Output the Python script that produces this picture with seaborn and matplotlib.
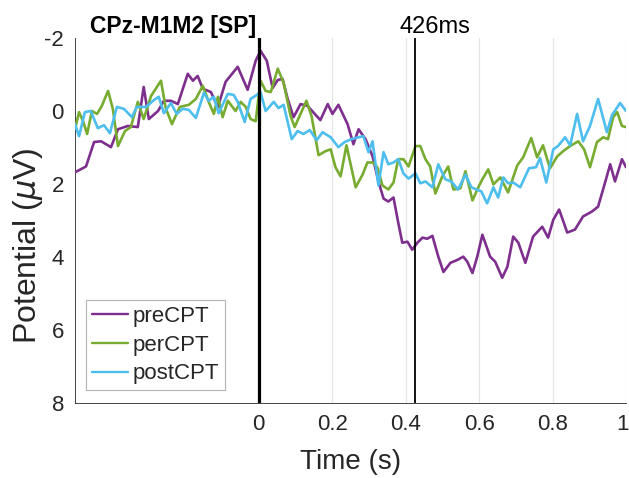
import numpy as np
import pandas as pd
import matplotlib
matplotlib.use("Agg")
import matplotlib.pyplot as plt
import matplotlib.transforms as mtransforms
import seaborn as sns

# ---------------- data ----------------
conditions = ["preCPT", "perCPT", "postCPT"]
colors = ["#7E2F8E", "#77AC30", "#4DBEEE"]

t_pre = [-0.5, -0.470, -0.448, -0.429, -0.402, -0.383, -0.356, -0.329, -0.313, -0.299,
         -0.274, -0.258, -0.239, -0.220, -0.193, -0.179, -0.166, -0.152, -0.130, -0.111,
         -0.090, -0.057, -0.030, -0.008, 0.005, 0.022, 0.038, 0.052, 0.065, 0.079,
         0.095, 0.114, 0.133, 0.168, 0.188, 0.201, 0.217, 0.242, 0.258, 0.272,
         0.291, 0.310, 0.326, 0.340, 0.353, 0.367, 0.380, 0.391, 0.405, 0.418,
         0.432, 0.446, 0.459, 0.473, 0.489, 0.503, 0.522, 0.541, 0.557, 0.568,
         0.582, 0.595, 0.609, 0.630, 0.644, 0.663, 0.677, 0.693, 0.707, 0.726,
         0.747, 0.772, 0.788, 0.802, 0.818, 0.840, 0.861, 0.883, 0.908, 0.924,
         0.943, 0.957, 0.970, 0.989, 1.0]
v_pre = [1.68, 1.52, 0.85, 0.83, 0.99, 0.50, 0.41, 0.44, -0.66, 0.22,
         0.00, -0.28, -0.28, -0.19, -1.02, -0.83, -0.96, -0.61, -0.52, -0.11,
         -0.80, -1.21, -0.58, -1.38, -1.65, -1.38, -0.63, -0.85, -0.88, -0.33,
         0.17, -0.19, -0.14, 0.25, -0.19, 0.08, -0.17, 0.36, 0.91, 0.50,
         0.77, 1.24, 1.93, 2.40, 2.48, 2.37, 3.06, 3.61, 3.58, 3.80,
         3.61, 3.47, 3.50, 3.42, 3.99, 4.41, 4.16, 4.08, 3.99, 4.13,
         4.44, 3.99, 3.39, 3.99, 4.13, 4.57, 4.27, 3.44, 3.61, 4.16,
         3.44, 3.17, 3.47, 2.98, 2.70, 3.33, 3.25, 2.89, 2.75, 2.62,
         1.96, 1.46, 1.93, 1.32, 1.54]

t_per = [-0.5, -0.489, -0.478, -0.467, -0.454, -0.440, -0.427, -0.410, -0.397, -0.383,
         -0.364, -0.348, -0.329, -0.313, -0.293, -0.266, -0.253, -0.236, -0.215, -0.190,
         -0.171, -0.152, -0.136, -0.122, -0.111, -0.098, -0.084, -0.063, -0.049, -0.035,
         -0.022, -0.008, 0.005, 0.019, 0.033, 0.052, 0.068, 0.087, 0.098, 0.114,
         0.130, 0.144, 0.163, 0.182, 0.196, 0.209, 0.223, 0.239, 0.264, 0.283,
         0.296, 0.310, 0.323, 0.337, 0.353, 0.367, 0.380, 0.394, 0.408, 0.427,
         0.440, 0.454, 0.467, 0.481, 0.500, 0.516, 0.530, 0.549, 0.563, 0.582,
         0.598, 0.609, 0.625, 0.639, 0.658, 0.679, 0.704, 0.720, 0.742, 0.758,
         0.774, 0.793, 0.813, 0.829, 0.848, 0.870, 0.886, 0.902, 0.921, 0.938,
         0.951, 0.965, 0.976, 0.989, 1.0]
v_per = [0.50, 0.03, 0.28, 0.63, 0.00, 0.08, -0.14, -0.55, -0.06, 0.96,
         0.55, 0.44, -0.25, 0.22, -0.41, -0.83, -0.08, 0.36, -0.11, -0.17,
         -0.33, -0.69, -0.25, 0.08, -0.39, 0.17, -0.28, 0.00, -0.25, -0.11,
         0.22, 0.28, -0.83, -0.55, -0.52, -1.16, -0.77, 0.14, 0.44, 0.08,
         -0.28, 0.14, 1.21, 1.10, 1.05, 1.54, 1.79, 0.94, 2.09, 1.74,
         1.41, 1.41, 1.54, 2.04, 2.15, 1.96, 1.32, 1.32, 1.52, 0.96,
         0.96, 1.32, 1.52, 2.26, 1.79, 1.52, 2.15, 2.12, 1.65, 2.45,
         2.09, 1.87, 1.60, 2.01, 1.82, 2.23, 1.49, 1.27, 0.74, 1.27,
         0.94, 1.57, 1.24, 1.10, 0.96, 0.83, 1.05, 1.54, 0.85, 0.72,
         0.77, 0.17, 0.03, 0.41, 0.44]

t_post = [-0.5, -0.489, -0.473, -0.457, -0.438, -0.421, -0.405, -0.386, -0.367, -0.345,
          -0.332, -0.307, -0.285, -0.272, -0.258, -0.239, -0.223, -0.207, -0.190, -0.171,
          -0.149, -0.136, -0.122, -0.109, -0.084, -0.068, -0.057, -0.038, -0.022, -0.005,
          0.005, 0.019, 0.041, 0.054, 0.068, 0.090, 0.106, 0.122, 0.139, 0.158,
          0.174, 0.196, 0.217, 0.234, 0.253, 0.272, 0.285, 0.299, 0.310, 0.326,
          0.340, 0.353, 0.367, 0.380, 0.394, 0.408, 0.427, 0.440, 0.454, 0.473,
          0.489, 0.508, 0.524, 0.543, 0.563, 0.579, 0.592, 0.606, 0.622, 0.639,
          0.652, 0.666, 0.679, 0.693, 0.712, 0.736, 0.755, 0.766, 0.783, 0.802,
          0.815, 0.834, 0.848, 0.867, 0.883, 0.902, 0.924, 0.948, 0.962, 0.984,
          1.0]
v_post = [0.36, 0.69, 0.03, 0.00, 0.47, 0.39, 0.61, -0.11, -0.06, 0.17,
          -0.11, -0.11, -0.30, -0.39, 0.06, -0.22, 0.08, -0.06, -0.03, 0.19,
          -0.50, -0.28, -0.39, 0.06, -0.47, -0.44, -0.25, 0.30, -0.33, -0.44,
          -0.52, 0.00, -0.25, -0.08, -0.17, 0.77, 0.55, 0.63, 0.52, 0.80,
          0.58, 0.72, 0.99, 0.85, 0.77, 0.72, 0.69, 1.13, 0.83, 2.04,
          1.13, 1.46, 1.41, 1.32, 1.71, 1.85, 1.71, 1.98, 1.93, 2.09,
          1.46, 1.87, 1.93, 2.15, 1.74, 2.09, 2.15, 2.20, 2.53, 2.09,
          2.37, 1.82, 1.98, 1.96, 2.09, 1.57, 1.54, 1.29, 1.96, 1.05,
          0.96, 0.72, 0.94, 0.08, 0.83, 0.41, -0.33, 0.58, 0.11, -0.22,
          0.00]

x_ticks = [0, 0.2, 0.4, 0.6, 0.8, 1]
x_tick_labels = ["0", "0.2", "0.4", "0.6", "0.8", "1"]
y_ticks = [-2, 0, 2, 4, 6, 8]
y_tick_labels = ["-2", "0", "2", "4", "6", "8"]
marker_time = 0.426
marker_label = "426ms"
title_text = "CPz-M1M2 [SP]"

# ---------------- build long table ----------------
frames = []
for name, tt, vv in zip(conditions, [t_pre, t_per, t_post], [v_pre, v_per, v_post]):
    frames.append(pd.DataFrame({"Time": tt, "Potential": vv, "Condition": name}))
df = pd.concat(frames, ignore_index=True)

# ---------------- style ----------------
sns.set_style("white")
plt.rcParams["font.family"] = ["Liberation Sans", "DejaVu Sans"]
plt.rcParams["axes.unicode_minus"] = False
plt.rcParams["mathtext.fontset"] = "dejavusans"

fig = plt.figure(figsize=(6.29, 4.78), dpi=100)
ax = fig.add_axes([75 / 629, 1 - 403 / 478, 551 / 629, 365 / 478])

ax.grid(axis="x", color="#e6e6e6", linewidth=0.9, zorder=0)
ax.set_axisbelow(True)

sns.lineplot(data=df, x="Time", y="Potential", hue="Condition",
             hue_order=conditions, palette=colors, estimator=None, sort=False,
             linewidth=1.9, ax=ax, zorder=3)
for ln in ax.get_lines():
    ln.set_solid_joinstyle("round")
    ln.set_solid_capstyle("round")

ax.axvline(0, color="black", linewidth=2.3, zorder=4)
ax.axvline(marker_time, color="black", linewidth=1.3, zorder=4)

ax.set_xlim(-0.5, 1.0)
ax.set_ylim(8, -2)
ax.set_xticks(x_ticks)
ax.set_xticklabels(x_tick_labels)
ax.set_yticks(y_ticks)
ax.set_yticklabels(y_tick_labels)
ax.tick_params(axis="both", direction="in", length=4, width=0.6, colors="#262626",
               labelsize=16, labelcolor="#262626")
ax.tick_params(axis="y", pad=8)
ax.tick_params(axis="x", pad=8)

# keep the last x tick label inside the canvas
last = ax.get_xticklabels()[-1]
last.set_transform(last.get_transform() +
                   mtransforms.ScaledTranslation(-3 / 100, 0, fig.dpi_scale_trans))

for side in ["top", "right"]:
    ax.spines[side].set_visible(False)
for side in ["left", "bottom"]:
    ax.spines[side].set_color("#262626")
    ax.spines[side].set_linewidth(0.6)

ax.set_xlabel("Time (s)", fontsize=20, color="#262626")
ax.set_ylabel(r"Potential ($\mu$V)", fontsize=23, color="#262626")
ax.xaxis.set_label_coords(0.5, -0.125)
ax.yaxis.set_label_coords(-0.055, 0.43)

leg = ax.legend(loc="lower left", bbox_to_anchor=(0.02, 0.036), fontsize=16,
                handlelength=1.65, handletextpad=0.2, labelspacing=0.35,
                borderpad=0.25, borderaxespad=0.0, fancybox=False,
                frameon=True, title=None)
leg.get_frame().set_edgecolor("#a0a0a0")
leg.get_frame().set_linewidth(0.8)
for line in leg.get_lines():
    line.set_linewidth(1.7)

fig.text(90 / 629, 1 - 33 / 478, title_text, fontsize=16.5, fontweight="bold",
         ha="left", va="baseline", color="black")
fig.text(400 / 629, 1 - 33 / 478, marker_label, fontsize=17,
         ha="left", va="baseline", color="black")

fig.savefig("out.png", dpi=100)
